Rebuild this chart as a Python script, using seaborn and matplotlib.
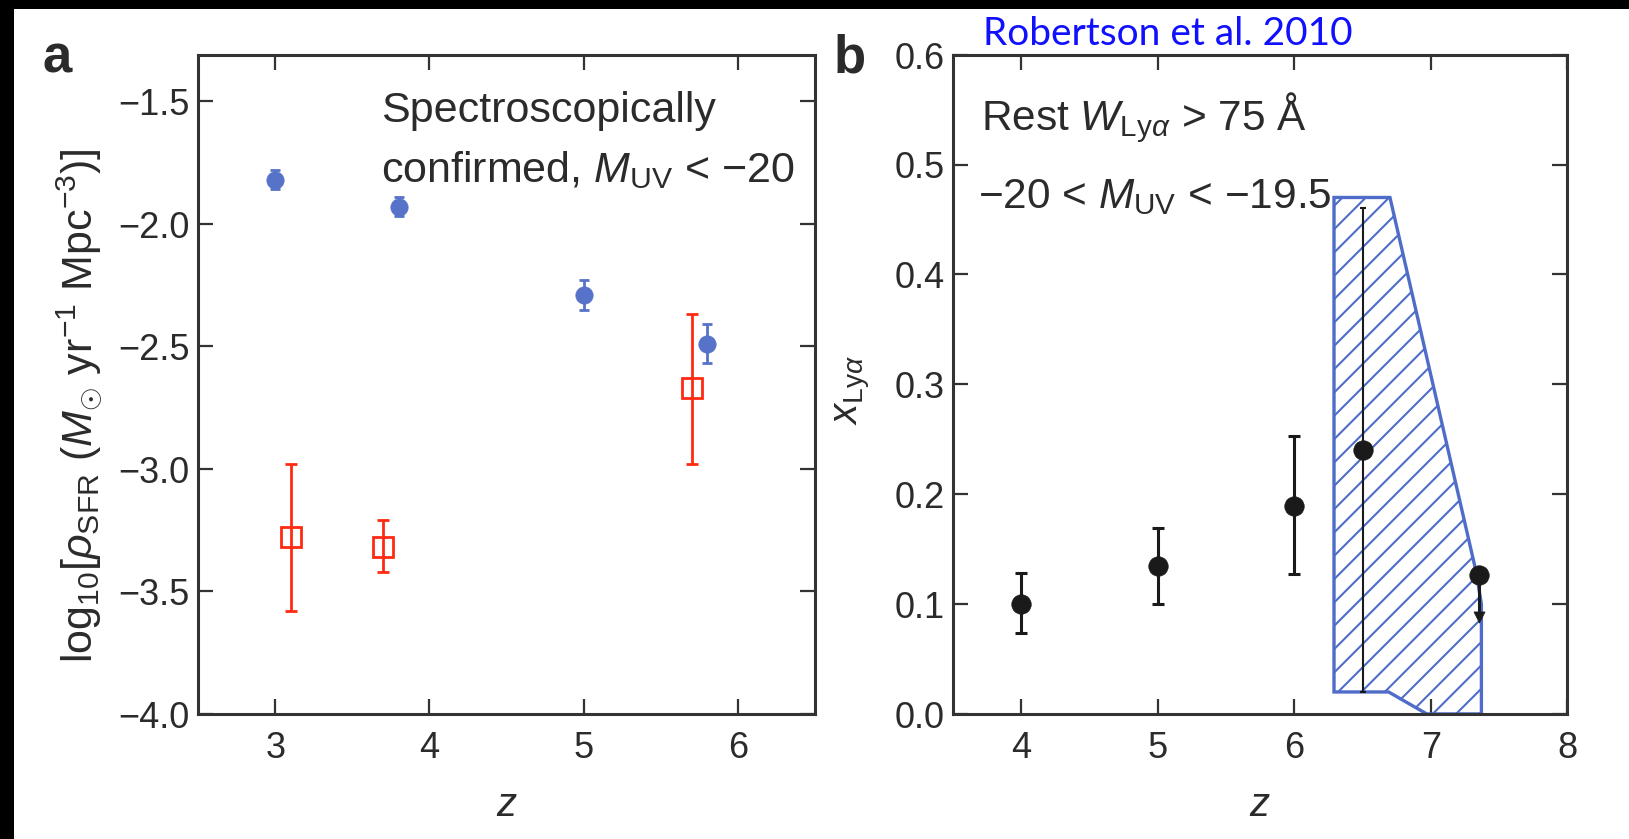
import matplotlib
matplotlib.use("Agg")
import matplotlib.pyplot as plt
import seaborn as sns
import numpy as np
import pandas as pd
from matplotlib.patches import Polygon, Rectangle

# ---------------- data ----------------
# panel a : star-formation rate density
sfr_blue_z = [3.0, 3.8, 5.0, 5.8]
sfr_blue = [-1.82, -1.93, -2.29, -2.49]
sfr_blue_err = [0.04, 0.04, 0.06, 0.08]

sfr_red_z = [3.1, 3.7, 5.7]
sfr_red = [-3.28, -3.32, -2.67]
sfr_red_err_lo = [0.30, 0.10, 0.31]
sfr_red_err_hi = [0.30, 0.11, 0.30]

# panel b : Lyman-alpha fraction
lya_z = [4.0, 5.0, 6.0, 6.5, 7.35]
lya_frac = [0.10, 0.135, 0.189, 0.24, 0.126]
lya_err_lo = [0.026, 0.035, 0.062, 0.22, 0.04]
lya_err_hi = [0.028, 0.034, 0.064, 0.22, 0.0]
lya_limit_z = [7.35]
lya_limit = [0.088]

# Robertson et al. 2010 hatched region
band_z = [6.29, 6.70, 7.33, 7.37, 7.37, 6.97, 6.69, 6.29]
band_x = [0.47, 0.47, 0.13, 0.10, 0.0, 0.0, 0.02, 0.02]

xticks_a = [3, 4, 5, 6]
yticks_a = [-4.0, -3.5, -3.0, -2.5, -2.0, -1.5]
xticks_b = [4, 5, 6, 7, 8]
yticks_b = [0.0, 0.1, 0.2, 0.3, 0.4, 0.5, 0.6]

# ---------------- style ----------------
DPI = 70                       # chosen so the hatch spacing matches (~14 px)
def pt(v):                     # sizes tuned for 100 dpi -> actual points
    return v * 100.0 / DPI

sns.set_theme(style="ticks")
plt.rcParams['font.family'] = ['Liberation Sans', 'DejaVu Sans']
plt.rcParams['mathtext.fontset'] = 'custom'
plt.rcParams['mathtext.rm'] = 'Liberation Sans'
plt.rcParams['mathtext.it'] = 'Liberation Sans:italic'
plt.rcParams['mathtext.bf'] = 'Liberation Sans:bold'
plt.rcParams['hatch.linewidth'] = pt(1.5)
plt.rcParams['hatch.color'] = '#4f6cc9'

TXT = '#2b2b2b'
BLUE = '#5672c9'
RED = '#ff2a12'
HATCH = '#4f6cc9'
BLACK = '#1a1a1a'

W, H = 1629, 839
fig = plt.figure(figsize=((W + 0.4) / DPI, (H + 0.4) / DPI), dpi=DPI,
                 facecolor='black')
fig.patches.append(Rectangle((14 / W, 0), 1 - 14 / W, (H - 9) / H,
                             transform=fig.transFigure, facecolor='white',
                             edgecolor='none', zorder=-10))

def ax_rect(x0, x1, y0, y1):
    return [x0 / W, 1 - y1 / H, (x1 - x0) / W, (y1 - y0) / H]

ax1 = fig.add_axes(ax_rect(198, 815, 55, 714))
ax2 = fig.add_axes(ax_rect(953, 1567, 55, 714))

for ax in (ax1, ax2):
    ax.set_facecolor('white')
    for s in ax.spines.values():
        s.set_linewidth(pt(2.2))
        s.set_color('#333333')
    ax.tick_params(direction='in', length=pt(11), width=pt(1.6),
                   color='#333333', top=True, right=True,
                   labelsize=pt(26), labelcolor=TXT)
    ax.tick_params(axis='x', pad=pt(12))
    ax.tick_params(axis='y', pad=pt(6))

# ---------------- panel a ----------------
ax1.errorbar(sfr_red_z, sfr_red, yerr=[sfr_red_err_lo, sfr_red_err_hi],
             fmt='s', ms=pt(15), mfc='none', mec=RED, mew=pt(2.0),
             ecolor=RED, elinewidth=pt(2.0), capsize=pt(4),
             capthick=pt(2.0), zorder=3)
ax1.errorbar(sfr_blue_z, sfr_blue, yerr=sfr_blue_err, fmt='none',
             ecolor=BLUE, elinewidth=pt(2.0), capsize=pt(3.5),
             capthick=pt(2.0), zorder=3)
df_a = pd.DataFrame({'z': sfr_blue_z, 'sfr': sfr_blue})
sns.scatterplot(data=df_a, x='z', y='sfr', ax=ax1, color=BLUE,
                s=pt(12.5) ** 2, marker='o', edgecolor=BLUE,
                linewidth=pt(0.5), zorder=4)

ax1.set_xlim(2.5, 6.5)
ax1.set_ylim(-4.0, -1.31)
ax1.set_xticks(xticks_a)
ax1.set_xticklabels([str(v) for v in xticks_a])
ax1.set_yticks(yticks_a)
ax1.set_yticklabels([f"{v:.1f}".replace('-', '\u2212') for v in yticks_a])
ax1.set_xlabel('')
ax1.set_ylabel('')

ax1.text(0.297, 0.898, 'Spectroscopically', transform=ax1.transAxes,
         fontsize=pt(31), color=TXT, va='baseline', ha='left')
ax1.text(0.297, 0.807, 'confirmed, $M_{\\mathrm{UV}}$ < \u221220',
         transform=ax1.transAxes, fontsize=pt(31), color=TXT,
         va='baseline', ha='left')
ax1.text(0.5, -0.138, '$z$', transform=ax1.transAxes, fontsize=pt(29),
         color=TXT, ha='center', va='center')

# ---------------- panel b ----------------
band = Polygon(list(zip(band_z, band_x)), closed=True, facecolor='none',
               edgecolor=HATCH, linewidth=pt(2.4), hatch='/', zorder=2)
ax2.add_patch(band)

# regular error bars (first three points)
ax2.errorbar(lya_z[:3], lya_frac[:3],
             yerr=[lya_err_lo[:3], lya_err_hi[:3]], fmt='none',
             ecolor=BLACK, elinewidth=pt(2.2), capsize=pt(4),
             capthick=pt(2.2), zorder=3)
# z = 6.5 point: thin long bar
ax2.errorbar(lya_z[3:4], lya_frac[3:4],
             yerr=[lya_err_lo[3:4], lya_err_hi[3:4]], fmt='none',
             ecolor=BLACK, elinewidth=pt(1.5), capsize=pt(2.5),
             capthick=pt(1.5), zorder=3)
# z = 7.35 point: downward bar only
ax2.errorbar(lya_z[4:], lya_frac[4:],
             yerr=[lya_err_lo[4:], lya_err_hi[4:]], fmt='none',
             ecolor=BLACK, elinewidth=pt(2.2), capsize=0, zorder=3)
df_b = pd.DataFrame({'z': lya_z, 'x': lya_frac})
sns.scatterplot(data=df_b, x='z', y='x', ax=ax2, color=BLACK,
                s=pt(14) ** 2, marker='o', edgecolor=BLACK,
                linewidth=pt(0.5), zorder=4)
sns.scatterplot(x=lya_limit_z, y=lya_limit, ax=ax2, color=BLACK,
                s=pt(8) ** 2, marker='v', edgecolor=BLACK,
                linewidth=pt(0.5), zorder=4)

ax2.set_xlim(3.5, 8.0)
ax2.set_ylim(0.0, 0.6)
ax2.set_xticks(xticks_b)
ax2.set_xticklabels([str(v) for v in xticks_b])
ax2.set_yticks(yticks_b)
ax2.set_yticklabels([f"{v:.1f}" for v in yticks_b])
ax2.set_xlabel('')
ax2.set_ylabel('')

ax2.text(0.046, 0.886, 'Rest $W_{\\mathrm{Ly}\\alpha}$ > 75 \u00c5',
         transform=ax2.transAxes, fontsize=pt(30.5), color=TXT,
         va='baseline', ha='left')
ax2.text(0.041, 0.768, '\u221220 < $M_{\\mathrm{UV}}$ < \u221219.5',
         transform=ax2.transAxes, fontsize=pt(30.5), color=TXT,
         va='baseline', ha='left')
ax2.text(0.5, -0.138, '$z$', transform=ax2.transAxes, fontsize=pt(29),
         color=TXT, ha='center', va='center')

# ---------------- figure-level text ----------------
fig.text(80 / W, 1 - 405 / H,
         'log$_{10}$[$\\rho_{\\mathrm{SFR}}$ ($M_{\\odot}$ yr$^{-1}$ Mpc$^{-3}$)]',
         rotation=90, ha='center', va='center', fontsize=pt(31), color=TXT)
fig.text(852 / W, 1 - 390 / H, '$x_{\\mathrm{Ly}\\alpha}$', rotation=90,
         ha='center', va='center', fontsize=pt(29), color=TXT)
fig.text(42 / W, 1 - 72 / H, 'a', fontsize=pt(38), fontweight='bold',
         color=TXT, ha='left', va='baseline')
fig.text(833 / W, 1 - 72 / H, 'b', fontsize=pt(38), fontweight='bold',
         color=TXT, ha='left', va='baseline')
fig.text(983 / W, 1 - 45 / H, 'Robertson et al. 2010', fontsize=pt(28),
         color='#1010ff', family=['Lato', 'DejaVu Sans'], ha='left',
         va='baseline')

fig.savefig('out.png', dpi=DPI, facecolor=fig.get_facecolor())
